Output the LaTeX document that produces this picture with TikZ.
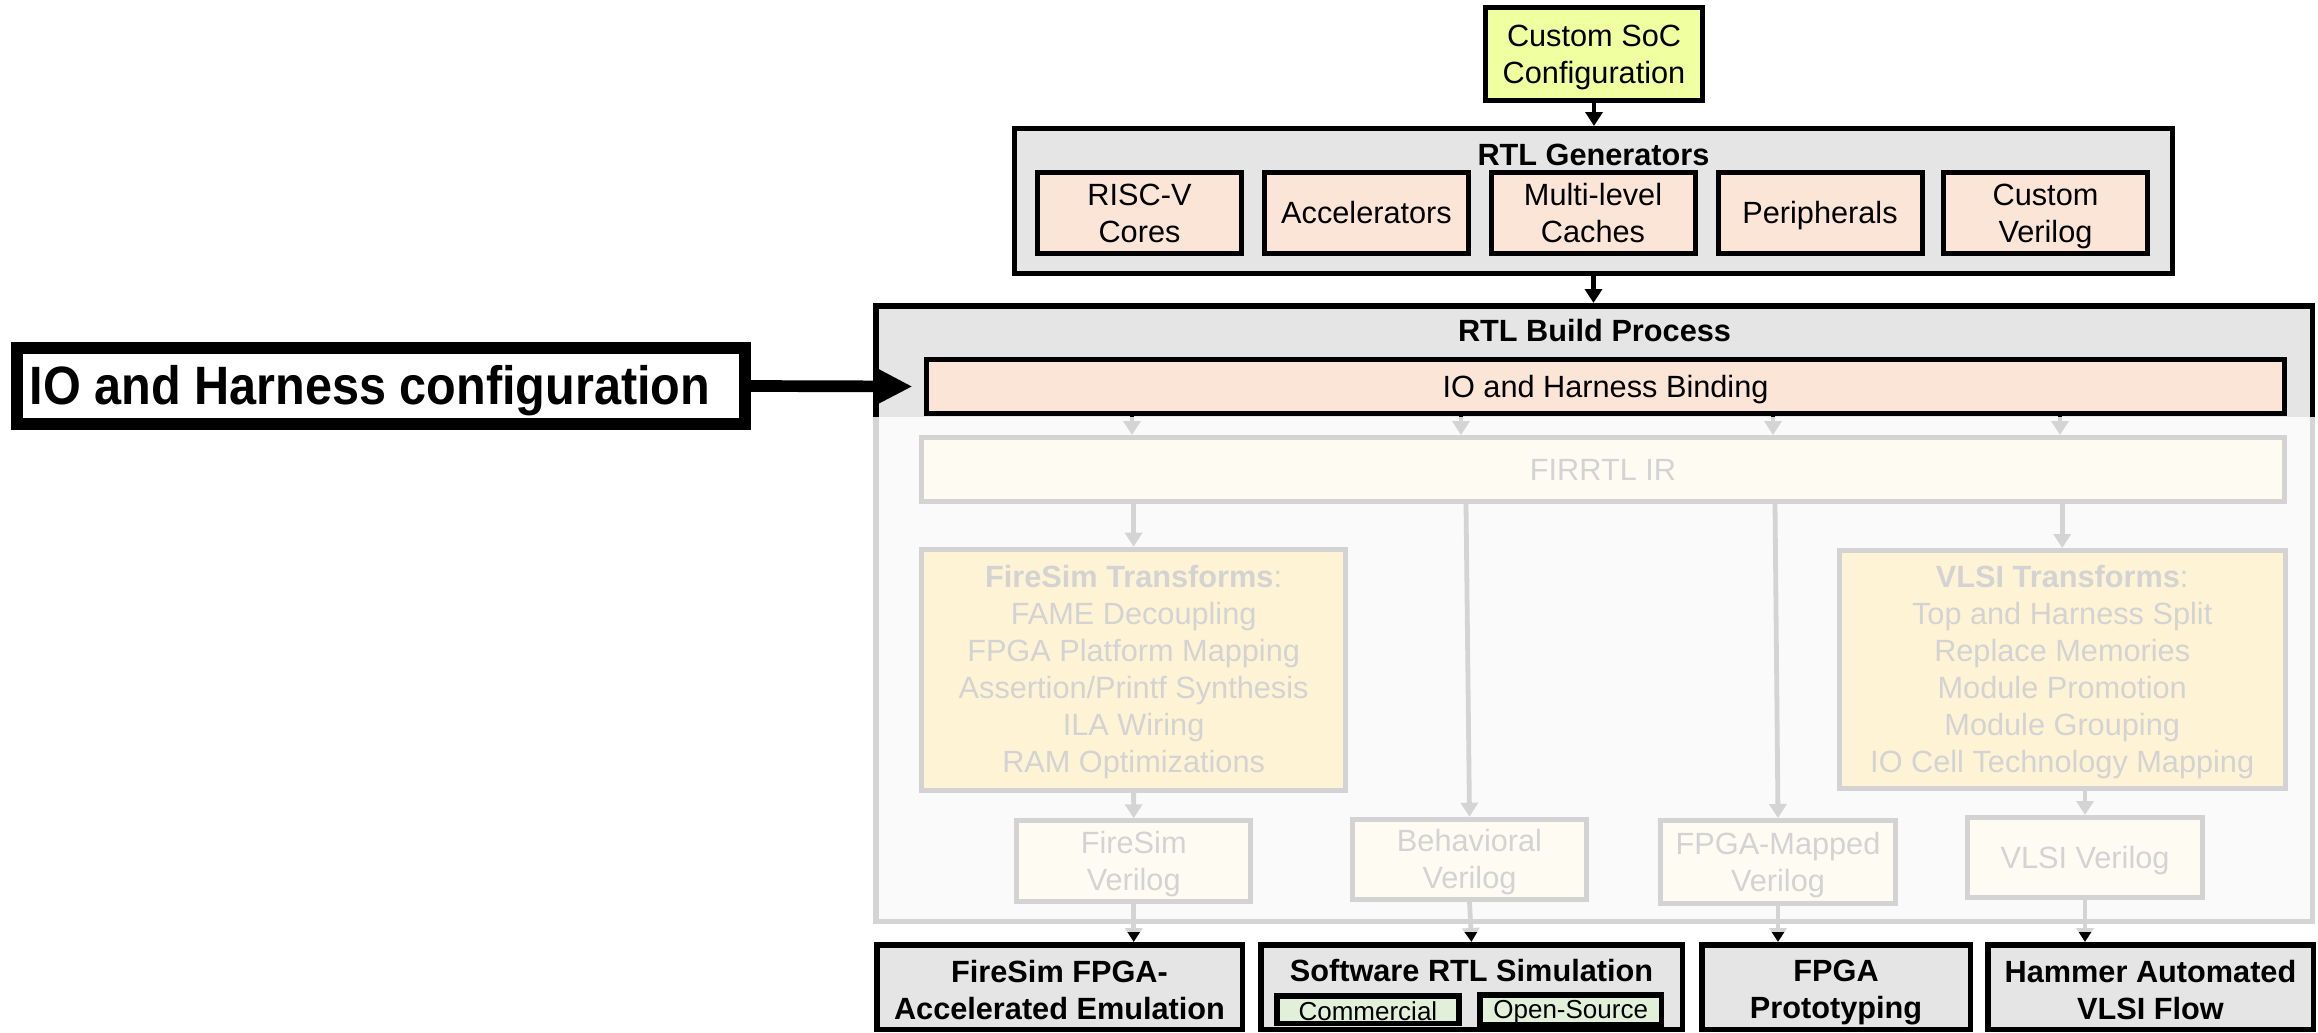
\documentclass[tikz,border=0pt]{standalone}
\usepackage{fontspec}
\setmainfont{Liberation Sans}
\usepackage{graphicx}
\usetikzlibrary{arrows.meta}

\definecolor{socfill}{RGB}{240,255,160}
\definecolor{panel}{RGB}{229,229,229}
\definecolor{peach}{RGB}{251,229,214}
\definecolor{mint}{RGB}{226,240,217}
\definecolor{fadeline}{RGB}{211,211,211}
\definecolor{fadecream}{RGB}{254,251,242}
\definecolor{fadegold}{RGB}{255,243,213}

\pgfdeclarelayer{under}
\pgfsetlayers{under,main}

% struts that fix the height and depth of each text line
\newcommand\lstrut{\rule[-0.212em]{0pt}{1.117em}}
\newcommand\bstrut{\rule[-0.15em]{0pt}{1.2em}}
\newcommand\tstrut{\rule[-0.12em]{0pt}{1.04em}}

\tikzset{
  txt/.style={font=\fontsize{30.7}{37}\selectfont, align=center, inner sep=0pt},
  boldtxt/.style={txt, font=\fontsize{30.7}{37}\selectfont\bfseries},
  blk/.style={txt, draw=black, line width=5pt},
  fade/.style={txt, draw=fadeline, text=fadeline, line width=5pt, fill=fadecream},
  outcome/.style={blk, line width=5.5pt, fill=panel, font=\fontsize{30.7}{37}\selectfont\bfseries, minimum height=84.5pt},
  tag/.style={blk, line width=5.5pt, fill=mint, minimum height=27.5pt, font=\fontsize{26}{30}\selectfont},
  arr/.style={line width=4.8pt, -{Triangle[length=14pt,width=17pt]}},
}

\begin{document}
\begin{tikzpicture}[x=1pt,y=-1pt]
\useasboundingbox (0,0) rectangle (2318,1033);

% configuration input
\node[blk, fill=socfill, minimum width=217pt, minimum height=93pt] (soc) at (1594,54)
      {\lstrut Custom SoC\\\lstrut Configuration};

% RTL generators
\node[blk, fill=panel, minimum width=1158pt, minimum height=145pt] (gen) at (1593.5,201) {};
\node[boldtxt, anchor=base] (gentitle) at (1593.5,165) {RTL Generators};
\node[blk, fill=peach, minimum width=204pt, minimum height=81pt] (cores) at (1139.5,213) {\lstrut RISC-V\\\lstrut Cores};
\node[blk, fill=peach, minimum width=204pt, minimum height=81pt] (accel) at (1366.5,213) {\lstrut Accelerators};
\node[blk, fill=peach, minimum width=204pt, minimum height=81pt] (caches) at (1593,213) {\lstrut Multi-level\\\lstrut Caches};
\node[blk, fill=peach, minimum width=204pt, minimum height=81pt] (periph) at (1820,213) {\lstrut Peripherals};
\node[blk, fill=peach, minimum width=204pt, minimum height=81pt] (custv) at (2045.5,213) {\lstrut Custom\\\lstrut Verilog};

% build process: visible top part
\node[boldtxt, anchor=base] (buildtitle) at (1594.5,341.7) {RTL Build Process};
\node[blk, fill=peach, minimum width=1358pt, minimum height=54pt] (io) at (1605.5,386.5) {\lstrut IO and Harness Binding};

% side label
\node[draw=black, line width=12pt, fill=white, inner sep=0pt, minimum width=727.5pt,
      minimum height=76.3pt, font=\fontsize{54}{60}\selectfont\bfseries] (cfg) at (381,386)
      {\scalebox{0.9}[1]{\lstrut IO and Harness configuration}\hspace*{22pt}};

% build process: dimmed stages
\node[fade, minimum width=1363pt, minimum height=64pt] (fir) at (1603,469.5) {\lstrut FIRRTL IR};
\node[fade, fill=fadegold, minimum width=424.3pt, minimum height=241pt] (fst) at (1133.6,669.7)
  {\lstrut\textbf{FireSim Transforms}:\\\lstrut FAME Decoupling\\\lstrut FPGA Platform Mapping\\\lstrut Assertion/Printf Synthesis\\\lstrut ILA Wiring\\\lstrut RAM Optimizations};
\node[fade, fill=fadegold, minimum width=446pt, minimum height=237.7pt] (vt) at (2062.2,669.4)
  {\lstrut\textbf{VLSI Transforms}:\\\lstrut Top and Harness Split\\\lstrut Replace Memories\\\lstrut Module Promotion\\\lstrut Module Grouping\\\lstrut IO Cell Technology Mapping};
\node[fade, minimum width=234.3pt, minimum height=81pt] (fsv) at (1133.7,861.3) {\lstrut FireSim\\\lstrut Verilog};
\node[fade, minimum width=234pt, minimum height=80pt] (beh) at (1469.5,859.2) {\lstrut Behavioral\\\lstrut Verilog};
\node[fade, minimum width=235pt, minimum height=83pt] (fpv) at (1778,862) {\lstrut FPGA-Mapped\\\lstrut Verilog};
\node[fade, minimum width=235pt, minimum height=80pt] (vv) at (2085,857.5) {\lstrut VLSI Verilog};

% targets
\node[outcome, minimum width=365.5pt] (ff) at (1059.5,987) {\bstrut FireSim FPGA-\\\bstrut Accelerated Emulation};
\node[outcome, minimum width=421.5pt] (sw) at (1471.5,987) {};
\node[boldtxt, anchor=base] (swtitle) at (1471.5,981.7) {Software RTL Simulation};
\node[tag, minimum width=182pt] (com) at (1367.9,1009.7) {\tstrut Commercial};
\node[tag, minimum width=181.3pt] (oss) at (1570.7,1009.7) {\tstrut Open-Source};
\node[outcome, minimum width=268.5pt] (fpga) at (1836,987) {\bstrut FPGA\\\bstrut Prototyping};
\node[outcome, minimum width=325.5pt] (ham) at (2150.5,987) {\bstrut Hammer Automated\\\bstrut VLSI Flow};

% column positions of the binding outputs
\coordinate (colA) at (1132,0);
\coordinate (colB) at (1461,0);
\coordinate (colC) at (1773,0);
\coordinate (colD) at (2060,0);
\coordinate (colB2) at (1466,0);
\coordinate (colC2) at (1775,0);

\begin{pgfonlayer}{under}
  \fill[white] (0,0) rectangle (2318,1033);
  \node[draw=black, line width=5.5pt, fill=panel, inner sep=0pt,
        minimum width=1436.5pt, minimum height=615.5pt] (build) at (1594,613.5) {};
  \draw[arr] (io.south -| colA) -- (fir.north -| colA);
  \draw[arr] (io.south -| colB) -- (fir.north -| colB);
  \draw[arr] (io.south -| colC) -- (fir.north -| colC);
  \draw[arr] (io.south -| colD) -- (fir.north -| colD);
  \draw[arr] (fir.south -| fst.north) -- (fst.north);
  \draw[arr] (fir.south -| colB2) -- (beh.north);
  \draw[arr] (fir.south -| colC2) -- (fpv.north);
  \draw[arr] (fir.south -| vt.north) -- (vt.north);
  \draw[arr] (fst.south) -- (fsv.north);
  \draw[arr] (vt.south -| vv.north) -- (vv.north);
  \draw[arr] (fsv.south) -- (fsv.south |- ff.north);
  \draw[arr] (beh.south) -- (sw.north);
  \draw[arr] (fpv.south) -- (fpv.south |- fpga.north);
  \draw[arr] (vv.south) -- (vv.south |- ham.north);
  % veil over the stages that are not in focus
  \fill[white, opacity=0.83] (870,416.7) rectangle (2318,931.7);
\end{pgfonlayer}

\draw[arr] (soc.south) -- (soc.south |- gen.north);
\draw[arr] (gen.south) -- (gen.south |- build.north);
\draw[line width=11.7pt, -{Triangle[length=37pt,width=35pt]}] (cfg.east) -- ([xshift=-11.5pt]io.west);
\end{tikzpicture}
\end{document}
